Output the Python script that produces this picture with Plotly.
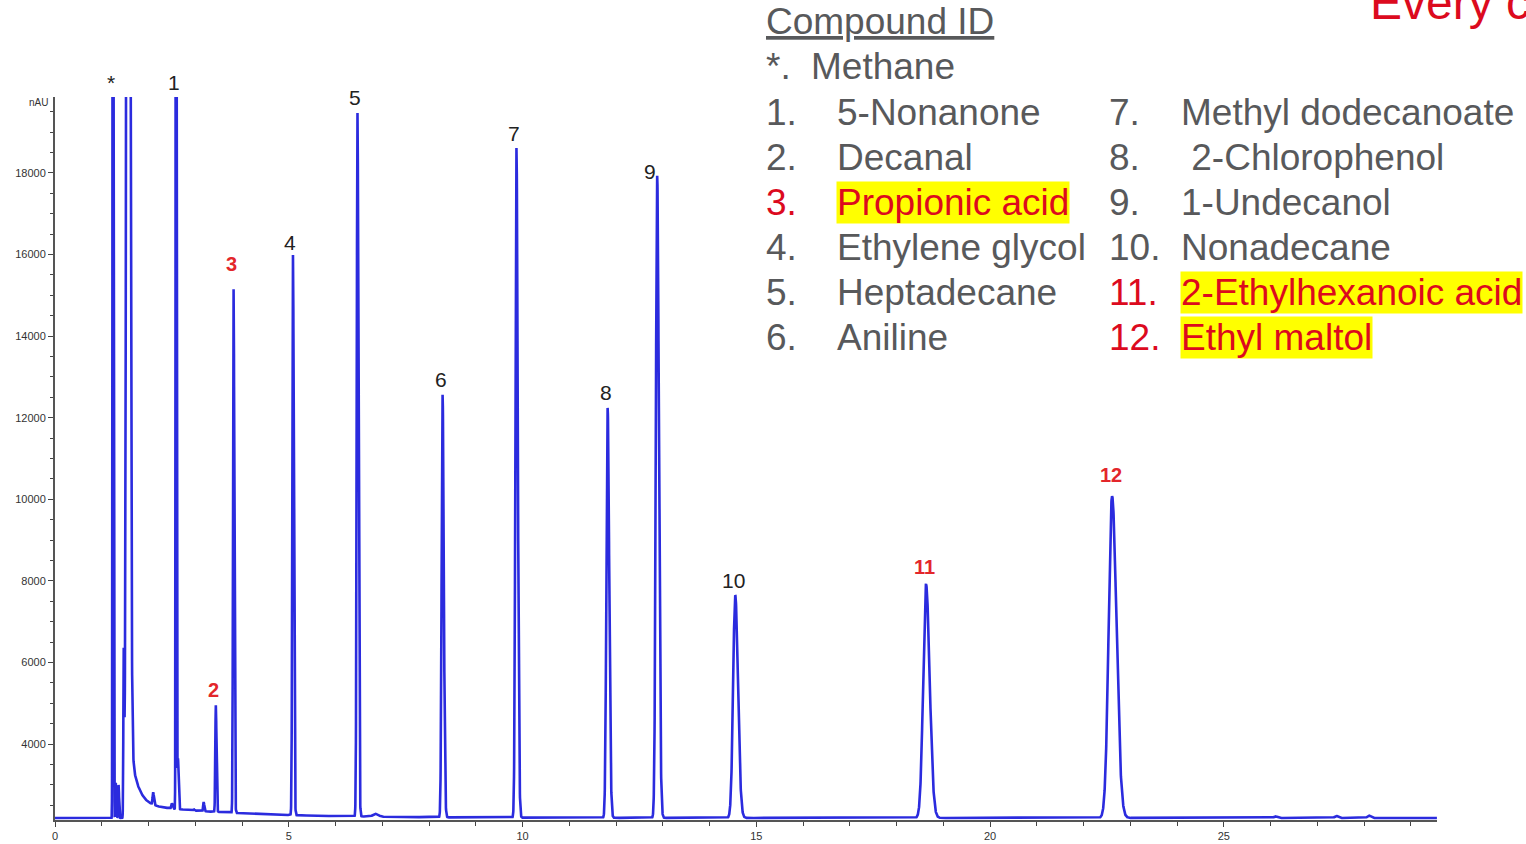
import numpy as np
import plotly.graph_objects as go

# ---------------------------------------------------------------------------
# Chromatogram data
# ---------------------------------------------------------------------------
# Labelled peaks: retention time (min) and apex signal (nAU)
peak_labels = ["*", "1", "2", "3", "4", "5", "6", "7", "8", "9", "10", "11", "12"]
peak_rt = [1.24, 2.59, 3.44, 3.82, 5.09, 6.47, 8.29, 9.87, 11.82, 12.88, 14.55, 18.63, 22.61]
peak_apex = [60000, 60000, 4950, 15150, 15990, 19470, 12560, 18610, 12240, 17930, 7650, 7920, 10080]
peak_sigma = [0.007, 0.007, 0.011, 0.012, 0.014, 0.016, 0.020, 0.022, 0.026, 0.028, 0.045, 0.060, 0.072]
red_peaks = ["2", "3", "11", "12"]

# Unlabelled peaks: solvent front and small impurities
minor_rt = [1.30, 1.36, 1.47, 1.56, 2.10, 2.50, 2.63, 2.97, 3.18, 6.85, 26.1, 27.4, 28.1]
minor_apex = [3050, 3000, 6150, 60000, 2820, 2550, 3650, 2400, 2580, 2290, 2230, 2240, 2250]
minor_sigma = [0.008, 0.008, 0.008, 0.027, 0.012, 0.012, 0.010, 0.010, 0.010, 0.050, 0.030, 0.030, 0.030]

# Detector baseline and solvent tailing after the front
baseline_level = 2190
solvent_tail_start = 1.56
solvent_tail_amp = [2000, 350]
solvent_tail_tau = [0.15, 2.2]

# Axes
x_range = [0, 29.56]
y_range = [2140, 19860]
x_ticks = [0, 5, 10, 15, 20, 25]
y_ticks = [4000, 6000, 8000, 10000, 12000, 14000, 16000, 18000]

# Compound key
key_title = "Compound ID"
left_numbers = ["*.", "1.", "2.", "3.", "4.", "5.", "6."]
left_names = ["Methane", "5-Nonanone", "Decanal", "Propionic acid",
              "Ethylene glycol", "Heptadecane", "Aniline"]
right_numbers = ["7.", "8.", "9.", "10.", "11.", "12."]
right_names = ["Methyl dodecanoate", "\u00a02-Chlorophenol", "1-Undecanol",
               "Nonadecane", "2-Ethylhexanoic acid", "Ethyl maltol"]
highlighted = ["Propionic acid", "2-Ethylhexanoic acid", "Ethyl maltol"]
corner_text = "Every c"

# ---------------------------------------------------------------------------
# Build the detector trace
# ---------------------------------------------------------------------------
t = np.arange(x_range[0], x_range[1], 0.002)


def background(x):
    x = np.asarray(x, dtype=float)
    dt = np.clip(x - solvent_tail_start, 0, None)
    tail = sum(a * np.exp(-dt / tau) for a, tau in zip(solvent_tail_amp, solvent_tail_tau))
    return baseline_level + np.where(x >= solvent_tail_start, tail, 0.0)


def peak_shape(x, rt, height, sigma):
    s = np.where(x < rt, sigma, sigma * 1.3)
    return height * np.exp(-0.5 * ((x - rt) / s) ** 2)


signal = background(t)
for rt, apex, sg in zip(peak_rt + minor_rt, peak_apex + minor_apex, peak_sigma + minor_sigma):
    signal = signal + peak_shape(t, rt, apex - float(background(rt)), sg)

# ---------------------------------------------------------------------------
# Figure
# ---------------------------------------------------------------------------
W, H = 1526, 844
ML, MR, MT, MB = 55, 89, 97, 24
PW, PH = W - ML - MR, H - MT - MB

FONT = "Liberation Sans, Arial, sans-serif"
GRAY = "#58595B"
RED = "#DC0A1E"
YELLOW = "#FFFF00"


def px(x):
    return (x - ML) / PW


def py(y):
    return (H - MB - y) / PH


fig = go.Figure()
fig.add_trace(go.Scatter(
    x=t, y=signal, mode="lines",
    line=dict(color="#2B2BDE", width=2.6),
    hoverinfo="skip", showlegend=False,
))

annotations = []

# Peak numbers above each apex
label_offsets = {"3": (-2, 25), "4": (-3, 12), "9": (-7, 4), "11": (-2, 17), "12": (-1, 21)}
for lab, rt, apex in zip(peak_labels, peak_rt, peak_apex):
    dx, dy = label_offsets.get(lab, (-2, 15))
    is_red = lab in red_peaks
    annotations.append(dict(
        x=rt, y=min(apex, y_range[1]), xref="x", yref="y",
        text=f"<b>{lab}</b>" if is_red else lab,
        showarrow=False, xanchor="center", yanchor="middle",
        xshift=dx, yshift=dy,
        font=dict(family=FONT, size=21 if not is_red else 20,
                  color="#E3262B" if is_red else "#222222"),
    ))

# Unit label at the top of the signal axis
annotations.append(dict(
    x=px(38), y=py(103), xref="paper", yref="paper", text="nAU",
    showarrow=False, xanchor="center", yanchor="middle",
    font=dict(family=FONT, size=10, color="#333333"),
))

# Compound key
KEY_SIZE = 37
annotations.append(dict(
    x=px(764), y=py(22), xref="paper", yref="paper",
    text=f"<u>{key_title}</u>", showarrow=False,
    xanchor="left", yanchor="middle",
    font=dict(family=FONT, size=KEY_SIZE, color=GRAY),
))


def key_entry(num, name, x_num, x_name, y):
    hl = name.strip("\u00a0") in highlighted
    col = RED if hl else GRAY
    annotations.append(dict(
        x=px(x_num), y=py(y), xref="paper", yref="paper", text=num,
        showarrow=False, xanchor="left", yanchor="middle",
        font=dict(family=FONT, size=KEY_SIZE, color=col),
    ))
    entry = dict(
        x=px(x_name), y=py(y), xref="paper", yref="paper", text=name,
        showarrow=False, xanchor="left", yanchor="middle", borderpad=0,
        font=dict(family=FONT, size=KEY_SIZE, color=col),
    )
    if hl:
        entry["bgcolor"] = YELLOW
    annotations.append(entry)


ROW0, ROW_STEP = 67, 45
for i, (num, name) in enumerate(zip(left_numbers, left_names)):
    key_entry(num, name, 764, 810 if i == 0 else 836, ROW0 + i * ROW_STEP)
for i, (num, name) in enumerate(zip(right_numbers, right_names)):
    key_entry(num, name, 1107, 1180, ROW0 + (i + 1) * ROW_STEP)

annotations.append(dict(
    x=px(1368), y=py(2), xref="paper", yref="paper", text=corner_text,
    showarrow=False, xanchor="left", yanchor="middle",
    font=dict(family=FONT, size=48, color=RED),
))

axis_common = dict(
    showgrid=False, zeroline=False, showline=True, automargin=False,
    linecolor="#555555", linewidth=2,
    ticks="outside", ticklen=5, tickwidth=1, tickcolor="#444444",
    tickfont=dict(family=FONT, size=11, color="#333333"),
)

fig.update_layout(
    width=W, height=H, autosize=False,
    margin=dict(l=ML, r=MR, t=MT, b=MB, pad=0, autoexpand=False),
    paper_bgcolor="white", plot_bgcolor="white",
    xaxis=dict(range=x_range, tickmode="array", tickvals=x_ticks,
               minor=dict(tickmode="linear", tick0=0, dtick=1, ticks="outside",
                          ticklen=4, tickcolor="#444444"),
               **axis_common),
    yaxis=dict(range=y_range, tickmode="array", tickvals=y_ticks, tickformat="d",
               minor=dict(tickmode="linear", tick0=0, dtick=500, ticks="outside",
                          ticklen=3, tickcolor="#444444"),
               **axis_common),
    annotations=annotations,
    hovermode=False,
)

fig.write_html("out.html", config={"displayModeBar": False})
